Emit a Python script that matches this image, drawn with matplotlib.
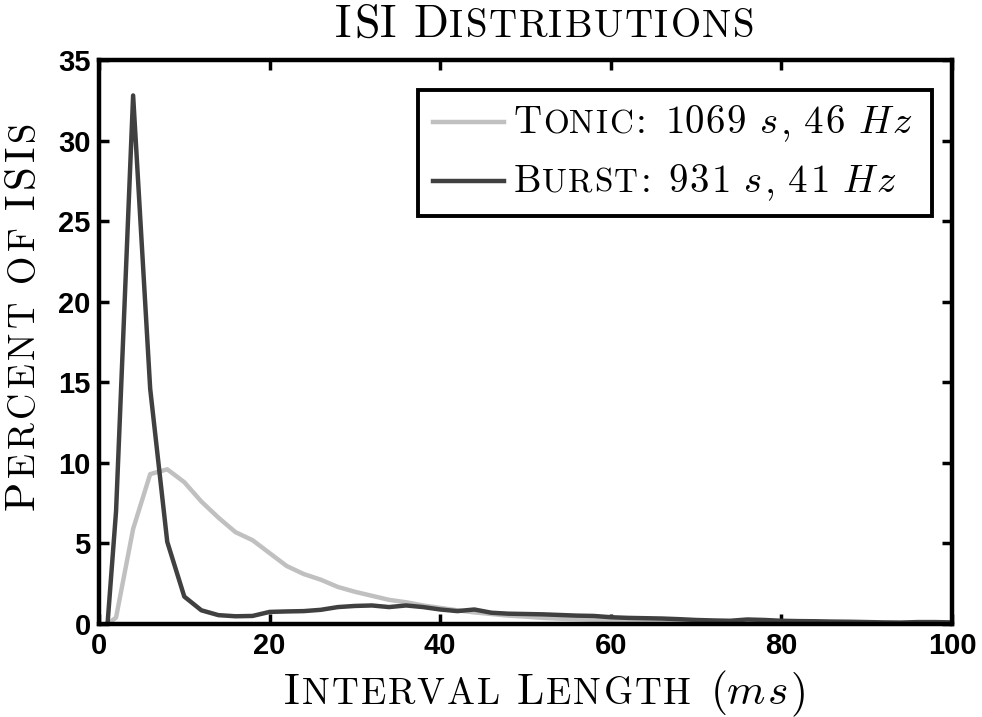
import matplotlib; matplotlib.use("Agg")
import matplotlib.pyplot as plt
import matplotlib.font_manager as fm
from matplotlib.ft2font import FT2Font
from matplotlib.patches import Rectangle
from matplotlib.lines import Line2D

plt.rcParams["font.family"] = ["Liberation Sans", "DejaVu Sans"]
plt.rcParams["font.weight"] = "bold"

# ----------------------------- data -----------------------------
interval_ms = [1, 2, 4, 6, 8, 10, 12, 14, 16, 18, 20, 22, 24, 26, 28, 30, 32, 34, 36, 38, 40,
               42, 44, 46, 48, 50, 52, 54, 56, 58, 60, 62, 64, 66, 68, 70, 72, 74, 76, 78, 80,
               82, 84, 86, 88, 90, 92, 94, 96, 98, 100]
tonic_pct = [0.0, 0.4, 5.9, 9.3, 9.6, 8.8, 7.6, 6.6, 5.7, 5.2, 4.4, 3.6, 3.1, 2.75, 2.3, 2.0,
             1.75, 1.5, 1.35, 1.15, 1.0, 0.85, 0.72, 0.62, 0.52, 0.46, 0.38, 0.33, 0.3, 0.26,
             0.23, 0.2, 0.18, 0.16, 0.14, 0.12, 0.11, 0.1, 0.09, 0.09, 0.08, 0.07, 0.07, 0.06,
             0.06, 0.05, 0.05, 0.05, 0.04, 0.04, 0.04]
burst_pct = [0.0, 7.0, 32.8, 14.6, 5.1, 1.7, 0.85, 0.55, 0.48, 0.5, 0.75, 0.78, 0.8, 0.88, 1.05,
             1.12, 1.15, 1.05, 1.15, 1.05, 0.9, 0.8, 0.9, 0.7, 0.64, 0.62, 0.6, 0.56, 0.52, 0.5,
             0.42, 0.38, 0.36, 0.34, 0.3, 0.25, 0.22, 0.2, 0.28, 0.25, 0.2, 0.18, 0.17, 0.15,
             0.14, 0.12, 0.1, 0.09, 0.12, 0.12, 0.1]
labels = ["Tonic: 1069 $s$, 46 $Hz$", "Burst: 931 $s$, 41 $Hz$"]
colors = ["#c0c0c0", "#404040"]
xticks = [0, 20, 40, 60, 80, 100]
yticks = [0, 5, 10, 15, 20, 25, 30, 35]

W, H, DPI = 982, 717, 100
RM = fm.findfont(fm.FontProperties(family="cmr10"))
IT = fm.findfont(fm.FontProperties(family="cmmi10"))

fig = plt.figure(figsize=(W / DPI, H / DPI), dpi=DPI)
ax = fig.add_axes([99 / W, 1 - 624 / H, 853 / W, 564 / H])


def sc_text(s, x, y, size, rot=0, ha="center", ratio=0.85, track=0.0):
    """LaTeX-ish small caps: uppercase = caps, lowercase = small caps, $..$ = italic.
    x, y in px from top-left; every glyph placed by hand (track = extra px per glyph)."""
    em = size * DPI / 72
    fonts = {}
    items, pen, prev, math = [], 0.0, "", False
    for c in s:
        if c == "$":
            math = not math; continue
        if c == " ":
            pen += em * (0.444 if prev == ":" else 0.333)
            prev = c; continue
        kind = "it" if math else "sc" if c.islower() else "rm"
        ch = c.upper() if kind == "sc" else c
        path = IT if kind == "it" else RM
        fs = size * ratio if kind == "sc" else size
        if (path, fs) not in fonts:
            f = FT2Font(path); f.set_size(fs, DPI); fonts[path, fs] = f
        g = fonts[path, fs].load_char(ord(ch))
        items.append((pen + g.horiBearingX / 64, ch, path, fs))
        pen += g.linearHoriAdvance / 65536 + track
        prev = c
    pen -= track
    start = -pen / 2 if ha == "center" else 0
    for off, txt, path, fs in items:
        d = start + off
        px, py = (x + d, y) if rot == 0 else (x, y - d)
        fig.text(px / W, 1 - py / H, txt, fontproperties=fm.FontProperties(fname=path, size=fs),
                 rotation=rot, rotation_mode="anchor", ha="left", va="baseline", zorder=8)


for yv, c in zip([tonic_pct, burst_pct], colors):
    ax.plot(interval_ms, yv, color=c, lw=3.2, solid_joinstyle="round")

ax.set_xlim(0, 100); ax.set_ylim(0, 35)
ax.set_xticks(xticks); ax.set_yticks(yticks)
ax.tick_params(direction="in", length=7, width=2.5, labelsize=21, top=True, right=True, pad=6)
for sp in ax.spines.values():
    sp.set_linewidth(3.2)

# titles / labels in LaTeX small caps style
sc_text("ISI Distributions", 543, 37, 33, track=1.6)
sc_text("Interval Length ($ms$)", 544, 704, 31.5, track=2.0)
sc_text("Percent of ISIs", 34, 317, 31, rot=90, track=3.8)

# legend, drawn by hand so the entries can use small caps
fig.add_artist(Rectangle((418 / W, 1 - 216 / H), 514 / W, 126 / H, transform=fig.transFigure,
                         facecolor="white", edgecolor="black", lw=2.8, zorder=5))
for lab, c, ly, by in zip(labels, colors, [122, 181], [133, 192]):
    fig.add_artist(Line2D([433 / W, 504 / W], [1 - ly / H] * 2, transform=fig.transFigure,
                          color=c, lw=3.2, zorder=6))
    sc_text(lab, 512, by, 28, ha="left", track=1.3)

fig.savefig("out.png", dpi=DPI)
